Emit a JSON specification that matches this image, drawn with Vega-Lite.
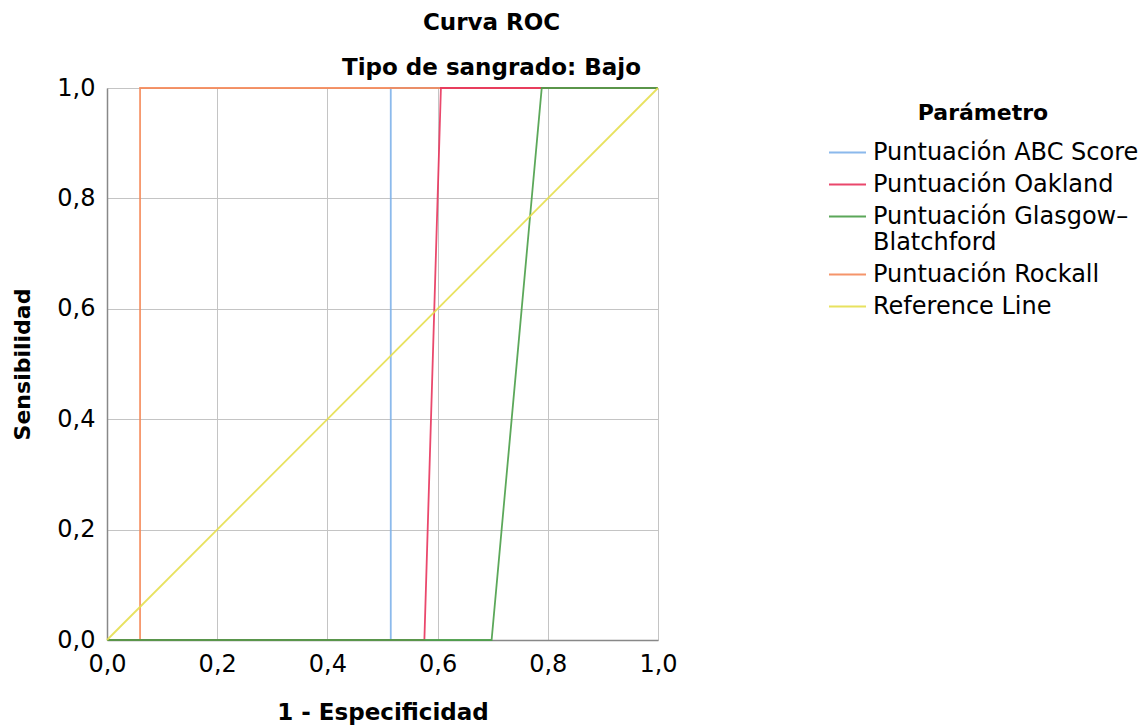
{
  "$schema": "https://vega.github.io/schema/vega-lite/v6.json",
  "width": 551,
  "height": 552,
  "padding": {"left": 11, "top": 12, "right": 5, "bottom": 5},
  "title": {
    "text": "Curva ROC",
    "subtitle": "Tipo de sangrado: Bajo",
    "anchor": "middle",
    "dx": 109,
    "font": "DejaVu Sans",
    "fontSize": 23,
    "fontWeight": "bold",
    "subtitleFont": "DejaVu Sans",
    "subtitleFontSize": 23,
    "subtitleFontWeight": "bold",
    "subtitleColor": "#000000",
    "color": "#000000",
    "subtitlePadding": 22,
    "offset": -4
  },
  "data": {
    "values": [
      {"param": "Puntuación ABC Score", "x": 0, "y": 0, "o": 1},
      {"param": "Puntuación ABC Score", "x": 0.515, "y": 0, "o": 2},
      {"param": "Puntuación ABC Score", "x": 0.515, "y": 1, "o": 3},
      {"param": "Puntuación ABC Score", "x": 1, "y": 1, "o": 4},
      {"param": "Puntuación Rockall", "x": 0, "y": 0, "o": 1},
      {"param": "Puntuación Rockall", "x": 0.06, "y": 0, "o": 2},
      {"param": "Puntuación Rockall", "x": 0.06, "y": 1, "o": 3},
      {"param": "Puntuación Rockall", "x": 1, "y": 1, "o": 4},
      {"param": "Puntuación Oakland", "x": 0, "y": 0, "o": 1},
      {"param": "Puntuación Oakland", "x": 0.576, "y": 0, "o": 2},
      {"param": "Puntuación Oakland", "x": 0.606, "y": 1, "o": 3},
      {"param": "Puntuación Oakland", "x": 1, "y": 1, "o": 4},
      {"param": "Puntuación Glasgow-Blatchford", "x": 0, "y": 0, "o": 1},
      {"param": "Puntuación Glasgow-Blatchford", "x": 0.698, "y": 0, "o": 2},
      {"param": "Puntuación Glasgow-Blatchford", "x": 0.789, "y": 1, "o": 3},
      {"param": "Puntuación Glasgow-Blatchford", "x": 1, "y": 1, "o": 4},
      {"param": "Reference Line", "x": 0, "y": 0, "o": 1},
      {"param": "Reference Line", "x": 1, "y": 1, "o": 2}
    ]
  },
  "mark": {"type": "line", "strokeWidth": 1.8, "opacity": 0.9},
  "encoding": {
    "x": {
      "field": "x",
      "type": "quantitative",
      "scale": {"domain": [0, 1], "nice": false, "zero": false},
      "axis": {
        "title": "1 - Especificidad",
        "titleFontSize": 23,
        "values": [0, 0.2, 0.4, 0.6, 0.8, 1],
        "labelExpr": "replace(format(datum.value, '.1f'), '.', ',')",
        "labelFlush": false,
        "labelPadding": 12,
        "titlePadding": 25
      }
    },
    "y": {
      "field": "y",
      "type": "quantitative",
      "scale": {"domain": [0, 1], "nice": false, "zero": false},
      "axis": {
        "title": "Sensibilidad",
        "values": [0, 0.2, 0.4, 0.6, 0.8, 1],
        "labelExpr": "replace(format(datum.value, '.1f'), '.', ',')",
        "labelPadding": 12,
        "titlePadding": 22
      }
    },
    "color": {
      "field": "param",
      "type": "nominal",
      "sort": ["Puntuación ABC Score", "Puntuación Oakland", "Puntuación Glasgow-Blatchford", "Puntuación Rockall", "Reference Line"],
      "scale": {
        "domain": ["Puntuación ABC Score", "Puntuación Oakland", "Puntuación Glasgow-Blatchford", "Puntuación Rockall", "Reference Line"],
        "range": ["#7fb2ea", "#e8345c", "#4a9e48", "#f58a5a", "#e6df4e"]
      },
      "legend": {
        "title": "Parámetro",
        "symbolType": "stroke",
        "symbolSize": 1369,
        "symbolStrokeWidth": 2,
        "labelExpr": "datum.label == 'Puntuación Glasgow-Blatchford' ? ['Puntuación Glasgow–', 'Blatchford'] : datum.label",
        "titleAnchor": "middle",
        "offset": 151,
        "padding": 15,
        "rowPadding": -5,
        "labelOffset": 6
      }
    },
    "order": {"field": "o", "type": "quantitative"}
  },
  "config": {
    "font": "DejaVu Sans",
    "view": {"stroke": null},
    "axis": {
      "labelFont": "DejaVu Sans",
      "labelFontSize": 24,
      "labelColor": "#000000",
      "titleFont": "DejaVu Sans",
      "titleFontSize": 22,
      "titleFontWeight": "bold",
      "titleColor": "#000000",
      "grid": true,
      "gridColor": "#c4c4c4",
      "gridWidth": 1,
      "ticks": false,
      "domainColor": "#888888",
      "domainWidth": 1.5
    },
    "legend": {
      "labelFont": "DejaVu Sans",
      "labelFontSize": 24,
      "labelColor": "#000000",
      "titleFont": "DejaVu Sans",
      "titleFontSize": 22,
      "titleFontWeight": "bold",
      "titleColor": "#000000",
      "titlePadding": 8,
      "labelLimit": 400
    }
  }
}
